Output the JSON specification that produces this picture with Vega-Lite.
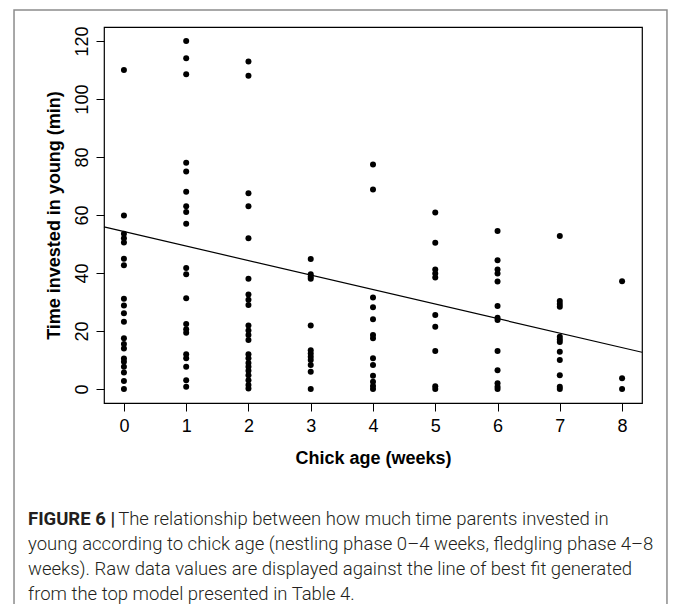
{
  "$schema": "https://vega.github.io/schema/vega-lite/v6.json",
  "width": 538,
  "height": 376,
  "autosize": {"type": "none"},
  "padding": {"left": 104, "top": 27, "right": 32, "bottom": 201},
  "background": "white",
  "config": {
    "view": {"stroke": "black", "strokeWidth": 1.2},
    "font": "Liberation Sans",
    "axis": {
      "grid": false,
      "domain": false,
      "tickColor": "black",
      "tickSize": 8,
      "tickWidth": 1,
      "labelFont": "Liberation Sans",
      "labelFontSize": 18,
      "labelColor": "black",
      "titleFont": "Liberation Sans",
      "titleFontSize": 18,
      "titleFontWeight": "bold",
      "titleColor": "black"
    },
    "axisX": {"labelPadding": 6, "labelAngle": 0, "titlePadding": 14},
    "axisY": {"labelAngle": -90, "labelAlign": "center", "labelBaseline": "bottom", "labelPadding": 5, "titlePadding": 10}
  },
  "datasets": {
    "points": [
      {"age": 0, "time": 110}, {"age": 0, "time": 59.8}, {"age": 0, "time": 53.5}, {"age": 0, "time": 52}, {"age": 0, "time": 50.5},
      {"age": 0, "time": 44.9}, {"age": 0, "time": 42.7}, {"age": 0, "time": 31.1}, {"age": 0, "time": 28.8}, {"age": 0, "time": 26.1},
      {"age": 0, "time": 23.2}, {"age": 0, "time": 17.5}, {"age": 0, "time": 15.5}, {"age": 0, "time": 14}, {"age": 0, "time": 10.5},
      {"age": 0, "time": 9.4}, {"age": 0, "time": 7.7}, {"age": 0, "time": 5.7}, {"age": 0, "time": 2.8}, {"age": 0, "time": 0},
      {"age": 1, "time": 120}, {"age": 1, "time": 114}, {"age": 1, "time": 108.5}, {"age": 1, "time": 78}, {"age": 1, "time": 75},
      {"age": 1, "time": 68}, {"age": 1, "time": 63}, {"age": 1, "time": 61}, {"age": 1, "time": 57}, {"age": 1, "time": 41.7},
      {"age": 1, "time": 39.6}, {"age": 1, "time": 31.3}, {"age": 1, "time": 22.4}, {"age": 1, "time": 20.6}, {"age": 1, "time": 19.4},
      {"age": 1, "time": 12}, {"age": 1, "time": 10.6}, {"age": 1, "time": 7.7}, {"age": 1, "time": 3}, {"age": 1, "time": 0.8},
      {"age": 2, "time": 112.9}, {"age": 2, "time": 108}, {"age": 2, "time": 67.5}, {"age": 2, "time": 63}, {"age": 2, "time": 52},
      {"age": 2, "time": 38}, {"age": 2, "time": 32.6}, {"age": 2, "time": 30.8}, {"age": 2, "time": 29}, {"age": 2, "time": 21.9},
      {"age": 2, "time": 20.2}, {"age": 2, "time": 18.6}, {"age": 2, "time": 16.9}, {"age": 2, "time": 12}, {"age": 2, "time": 10.6},
      {"age": 2, "time": 9}, {"age": 2, "time": 7.7}, {"age": 2, "time": 6.3}, {"age": 2, "time": 4.8}, {"age": 2, "time": 3},
      {"age": 2, "time": 1.4}, {"age": 2, "time": 0.2},
      {"age": 3, "time": 44.8}, {"age": 3, "time": 39.6}, {"age": 3, "time": 38.7}, {"age": 3, "time": 38}, {"age": 3, "time": 21.9},
      {"age": 3, "time": 13.4}, {"age": 3, "time": 12.3}, {"age": 3, "time": 11.1}, {"age": 3, "time": 10}, {"age": 3, "time": 8.3},
      {"age": 3, "time": 6}, {"age": 3, "time": 0},
      {"age": 4, "time": 77.4}, {"age": 4, "time": 68.8}, {"age": 4, "time": 31.6}, {"age": 4, "time": 28.2}, {"age": 4, "time": 24.1},
      {"age": 4, "time": 18.6}, {"age": 4, "time": 17.5}, {"age": 4, "time": 10.6}, {"age": 4, "time": 8.3}, {"age": 4, "time": 4.6},
      {"age": 4, "time": 2.5}, {"age": 4, "time": 1.1}, {"age": 4, "time": 0},
      {"age": 5, "time": 60.9}, {"age": 5, "time": 50.4}, {"age": 5, "time": 41.2}, {"age": 5, "time": 39.8}, {"age": 5, "time": 38.5},
      {"age": 5, "time": 25.5}, {"age": 5, "time": 21.5}, {"age": 5, "time": 13.1}, {"age": 5, "time": 1}, {"age": 5, "time": 0},
      {"age": 6, "time": 54.5}, {"age": 6, "time": 44.4}, {"age": 6, "time": 41.2}, {"age": 6, "time": 39.8}, {"age": 6, "time": 37.1},
      {"age": 6, "time": 28.6}, {"age": 6, "time": 24.6}, {"age": 6, "time": 23.8}, {"age": 6, "time": 13.1}, {"age": 6, "time": 6.5},
      {"age": 6, "time": 2}, {"age": 6, "time": 0.8}, {"age": 6, "time": 0},
      {"age": 7, "time": 52.8}, {"age": 7, "time": 30.4}, {"age": 7, "time": 29.3}, {"age": 7, "time": 28.4}, {"age": 7, "time": 18},
      {"age": 7, "time": 17.1}, {"age": 7, "time": 16.2}, {"age": 7, "time": 12.9}, {"age": 7, "time": 10}, {"age": 7, "time": 4.8},
      {"age": 7, "time": 0.8}, {"age": 7, "time": 0},
      {"age": 8, "time": 37.2}, {"age": 8, "time": 3.7}, {"age": 8, "time": 0}
    ],
    "fit": [
      {"age": -0.32, "time": 55.9},
      {"age": 8.32, "time": 12.7}
    ]
  },
  "title": {
    "text": "FIGURE 6 |",
    "subtitle": [
      "\u200b\u00a0\u00a0\u00a0\u00a0\u00a0\u00a0\u00a0\u00a0\u00a0\u00a0\u00a0\u00a0\u00a0\u00a0\u00a0\u00a0\u00a0\u00a0\u00a0\u00a0The relationship between how much time parents invested in",
      "young according to chick age (nestling phase 0–4 weeks, fledgling phase 4–8",
      "weeks). Raw data values are displayed against the line of best fit generated",
      "from the top model presented in Table 4."
    ],
    "orient": "bottom",
    "anchor": "start",
    "frame": "group",
    "dx": -76,
    "offset": -103,
    "font": "Roboto",
    "fontSize": 18.5,
    "fontWeight": "bold",
    "color": "#231f20",
    "subtitleFont": "Roboto",
    "subtitleFontSize": 18.5,
    "subtitleFontWeight": 300,
    "subtitleColor": "#231f20",
    "subtitleLineHeight": 25,
    "subtitlePadding": -18.5
  },
  "layer": [
    {
      "data": {"values": [{}]},
      "mark": {"type": "rect", "fillOpacity": 0, "stroke": "#8c8c8c", "strokeWidth": 1.5, "clip": false},
      "encoding": {
        "x": {"datum": -1.765, "type": "quantitative", "title": "Chick age (weeks)"},
        "x2": {"datum": 8.721},
        "y": {"datum": 130.66, "type": "quantitative", "title": "Time invested in young (min)"},
        "y2": {"datum": -76.84}
      }
    },
    {
      "data": {"name": "fit"},
      "mark": {"type": "line", "color": "black", "strokeWidth": 1.2},
      "encoding": {
        "x": {"field": "age", "type": "quantitative", "title": "Chick age (weeks)"},
        "y": {"field": "time", "type": "quantitative", "title": "Time invested in young (min)"}
      }
    },
    {
      "data": {"name": "points"},
      "mark": {"type": "circle", "size": 36, "color": "black", "opacity": 1},
      "encoding": {
        "x": {
          "field": "age",
          "type": "quantitative",
          "title": "Chick age (weeks)",
          "scale": {"domain": [-0.32, 8.32], "nice": false, "zero": false},
          "axis": {"values": [0, 1, 2, 3, 4, 5, 6, 7, 8], "format": "d"}
        },
        "y": {
          "field": "time",
          "type": "quantitative",
          "title": "Time invested in young (min)",
          "scale": {"domain": [-4.8, 124.8], "nice": false, "zero": false},
          "axis": {"values": [0, 20, 40, 60, 80, 100, 120], "format": "d"}
        }
      }
    }
  ]
}
